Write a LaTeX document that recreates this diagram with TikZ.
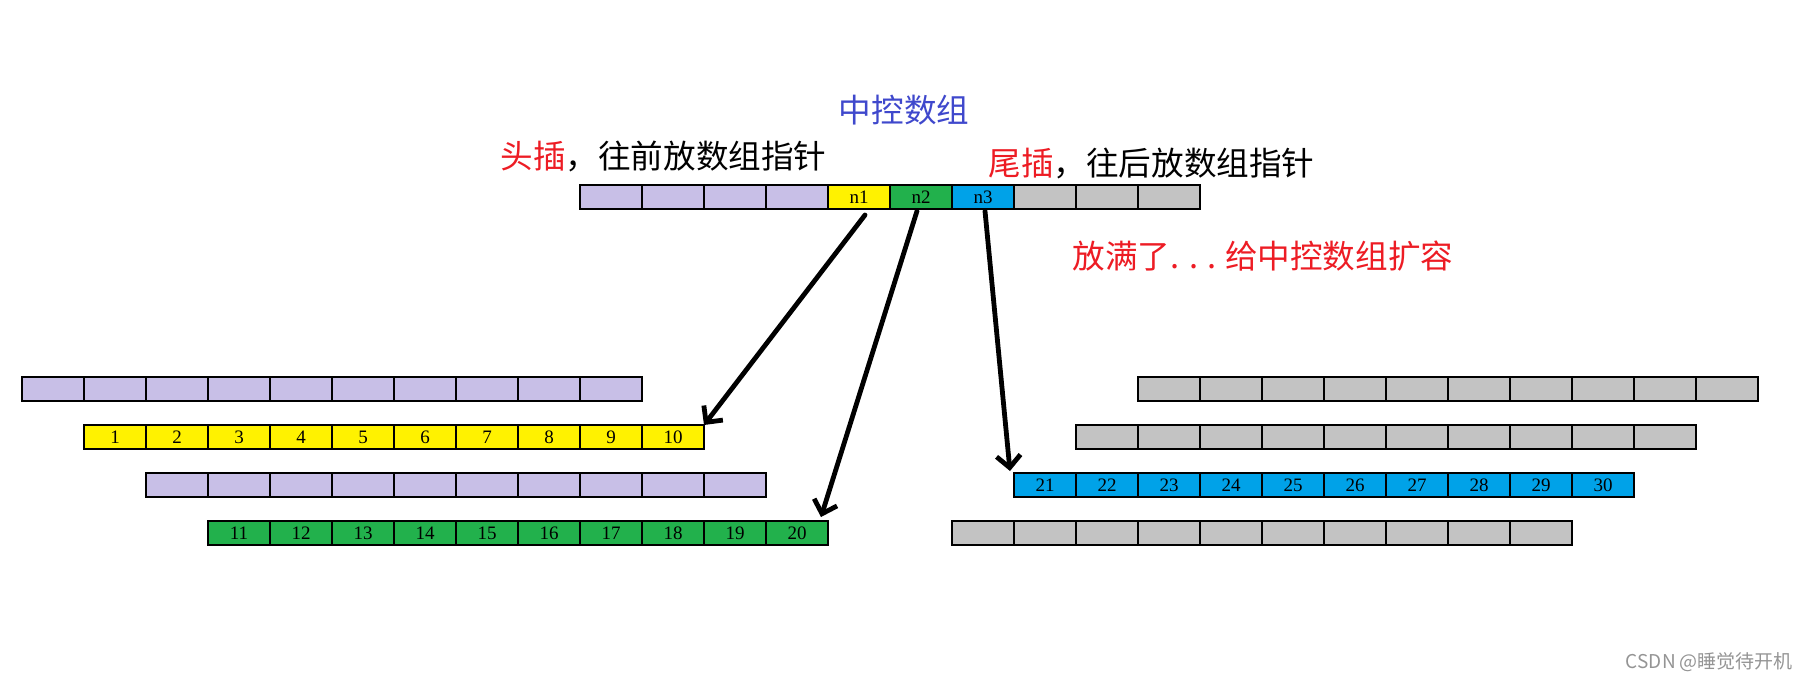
\documentclass[tikz,border=0pt]{standalone}
\usepackage{fontspec}
\setmainfont{Liberation Serif}
\newfontfamily\cjk{Noto Sans CJK SC}
\usetikzlibrary{arrows.meta}
\definecolor{lavender}{RGB}{200,191,231}
\definecolor{pyellow}{RGB}{255,242,0}
\definecolor{pgreen}{RGB}{34,177,76}
\definecolor{pblue}{RGB}{0,162,232}
\definecolor{pgray}{RGB}{195,195,195}
\definecolor{pred}{RGB}{237,28,36}
\definecolor{pindigo}{RGB}{63,72,204}
\newcommand{\cjkfont}{\cjk\fontsize{16.3}{18}\selectfont}

\begin{document}
\begin{tikzpicture}[x=0.5pt,y=-0.5pt,
            cell/.style={draw, line width=0.6pt, minimum width=31pt, minimum height=12pt,
                inner sep=0pt, outer sep=0pt, font=\fontsize{9.5}{9.5}\selectfont},
            ptr/.style={line width=2.4pt, line cap=round,
                -{Straight Barb[length=6pt,width=12pt]}},
            title/.style={font=\cjkfont, inner sep=0pt}]
            \useasboundingbox (0,0) rectangle (1816,681);
            
            % central array
            \foreach \i/\c/\t in {0/lavender/{},1/lavender/{},2/lavender/{},3/lavender/{},
                4/pyellow/n1,5/pgreen/n2,6/pblue/n3,7/pgray/{},8/pgray/{},9/pgray/{}}
                \node[cell, fill=\c] (t\i) at (611+62*\i,197) {\t};
            
            % data blocks
            \foreach \i in {0,...,9}{
                \pgfmathtruncatemacro\a{\i+1}
                \pgfmathtruncatemacro\b{\i+11}
                \pgfmathtruncatemacro\d{\i+21}
                \node[cell, fill=lavender] (L0-\i) at (53+62*\i,389) {};
                \node[cell, fill=pyellow] (L1-\i) at (115+62*\i,437) {\a};
                \node[cell, fill=lavender] (L2-\i) at (177+62*\i,485) {};
                \node[cell, fill=pgreen] (L3-\i) at (239+62*\i,533) {\b};
                \node[cell, fill=pgray] (R0-\i) at (1169+62*\i,389) {};
                \node[cell, fill=pgray] (R1-\i) at (1107+62*\i,437) {};
                \node[cell, fill=pblue] (R2-\i) at (1045+62*\i,485) {\d};
                \node[cell, fill=pgray] (R3-\i) at (983+62*\i,533) {};
            }
            
            \node[title, text=pindigo] (ctrl) at (904,110) {中控数组};
            \node[title, anchor=west] (head) at (500,156)
                {\textcolor{pred}{头插}，往前放数组指针};
            \node[title, anchor=west] (tail) at (988,163)
                {\textcolor{pred}{尾插}，往后放数组指针};
            \node[title, text=pred, anchor=west] (full) at (1072,256)
                {放满了.\hspace{0.3em}.\hspace{0.3em}.\hspace{0.25em}给中控数组扩容};
            
            \draw[ptr] ([shift={(3pt,-3pt)}]t4.south) -- (L1-9.north east);
            \draw[ptr] ([shift={(-2pt,-1pt)}]t5.south) -- ([shift={(-3.5pt,2pt)}]L3-9.north east);
            \draw[ptr] ([shift={(1pt,-1pt)}]t6.south) -- ([shift={(-2pt,1pt)}]R2-0.north west);
            
            \node[font=\cjk\fontsize{9.5}{10}\selectfont, text=black!42, anchor=east]
                (mark) at (1800,662) {CSDN @睡觉待开机};
            
            \end{tikzpicture}
\end{document}
